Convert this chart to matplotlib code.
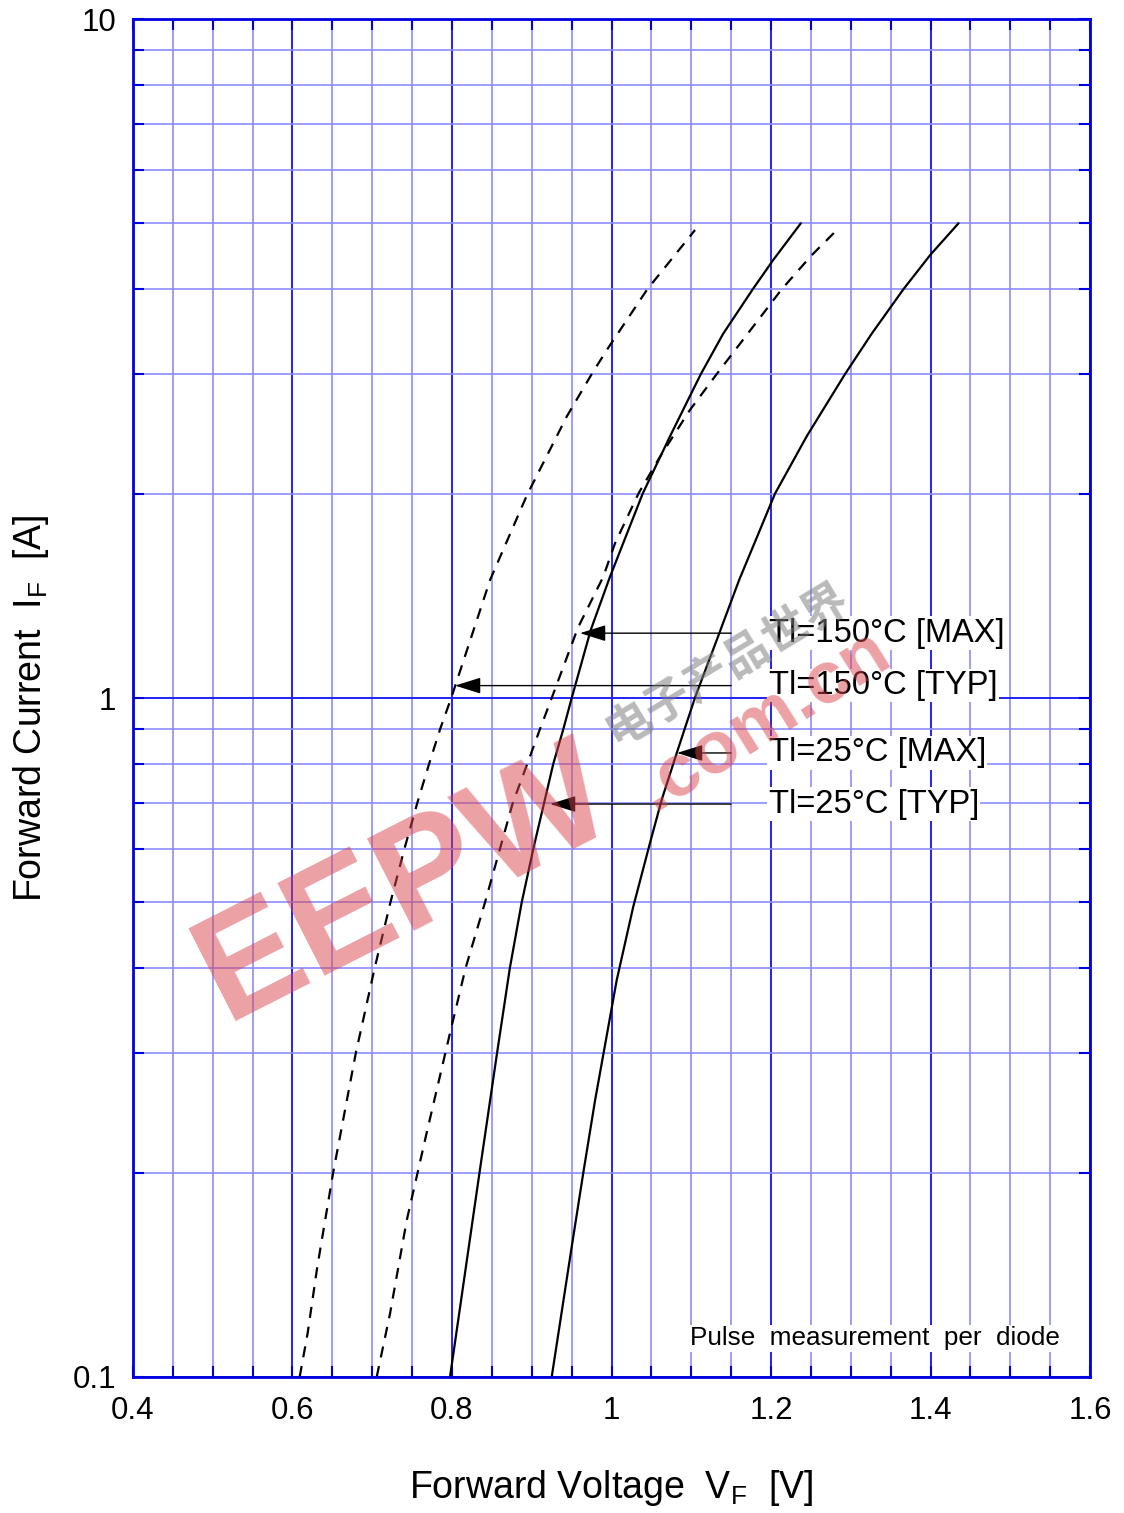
import numpy as np
import matplotlib.pyplot as plt
from matplotlib.ticker import FixedLocator, MultipleLocator, LogLocator, NullFormatter

plt.rcParams['font.family'] = ['Liberation Sans', 'DejaVu Sans']
plt.rcParams['mathtext.default'] = 'regular'

# Forward voltage [V] / forward current [A]
# Tj = 150 C typical (dashed, left)
v_150_typ = [0.609, 0.619, 0.631, 0.651, 0.6794, 0.703, 0.7228, 0.7404, 0.7564, 0.7713, 0.7851, 0.799,
             0.8477, 0.894, 0.9438, 0.9752, 0.994, 1.0449, 1.1047]
i_150_typ = [0.1, 0.116, 0.145, 0.2, 0.3, 0.4, 0.5, 0.6, 0.7, 0.8, 0.9, 1.0,
             1.492, 1.99, 2.597, 3.0, 3.254, 4.0, 4.89]

# Tj = 150 C max (dashed, right)
v_150_max = [0.7056, 0.7223, 0.7432, 0.7683, 0.7975, 0.817, 0.8414, 0.8602, 0.8761, 0.8944, 0.9103,
             0.925, 0.958, 0.9897, 1.0044, 1.0337, 1.0608, 1.0984, 1.1319, 1.1904, 1.2134, 1.251, 1.2803]
i_150_max = [0.1, 0.124, 0.170, 0.229, 0.321, 0.4, 0.5, 0.6, 0.7, 0.8, 0.9,
             1.0, 1.27, 1.509, 1.69, 2.0, 2.267, 2.657, 3.0, 3.687, 4.0, 4.49, 4.86]

# Tj = 25 C typical (solid, left)
v_25_typ = [0.7975, 0.8345, 0.8565, 0.8725, 0.8874, 0.902, 0.9154, 0.927, 0.9396, 0.9501,
            0.974, 0.9981, 1.0391, 1.0734, 1.112, 1.140, 1.1771, 1.2029, 1.2372]
i_25_typ = [0.1, 0.2, 0.3, 0.4, 0.5, 0.6, 0.7, 0.8, 0.9, 1.0,
            1.26, 1.509, 2.0, 2.43, 3.0, 3.44, 4.0, 4.42, 5.0]

# Tj = 25 C max (solid, right)
v_25_max = [0.925, 0.9501, 0.9646, 0.9795, 1.0065, 1.0273, 1.0483, 1.0629, 1.0818, 1.105, 1.1319,
            1.160, 1.205, 1.2448, 1.2928, 1.3262, 1.366, 1.3994, 1.4349]
i_25_max = [0.1, 0.1555, 0.1998, 0.256, 0.384, 0.493, 0.612, 0.708, 0.830, 1.004, 1.217,
            1.492, 2.0, 2.43, 3.0, 3.44, 4.0, 4.49, 5.0]

# curve labels with the point each arrow touches
ann_labels = ['Tl=150°C [MAX]', 'Tl=150°C [TYP]', 'Tl=25°C [MAX]', 'Tl=25°C [TYP]']
ann_tip_v = [0.9605, 0.8038, 1.0821, 0.9229]
ann_i = [1.246, 1.043, 0.83, 0.698]
ann_start_v = 1.150
ann_text_v = 1.197

x_ticks = [0.4, 0.6, 0.8, 1.0, 1.2, 1.4, 1.6]
x_tick_labels = ['0.4', '0.6', '0.8', '1', '1.2', '1.4', '1.6']
y_ticks = [0.1, 1, 10]
y_tick_labels = ['0.1', '1', '10']

frame_blue = '#0000e0'
major_blue = '#2020ff'
minor_blue = '#8c8cff'

fig = plt.figure(figsize=(11.24, 15.13), dpi=100)
ax = fig.add_axes([0.1183, 0.0899, 0.8515, 0.8975])

ax.set_yscale('log')
ax.set_xlim(0.4, 1.6)
ax.set_ylim(0.1, 10)

ax.xaxis.set_major_locator(FixedLocator(x_ticks))
ax.set_xticklabels(x_tick_labels)
ax.xaxis.set_minor_locator(MultipleLocator(0.05))
ax.yaxis.set_major_locator(FixedLocator(y_ticks))
ax.set_yticklabels(y_tick_labels)
ax.yaxis.set_minor_locator(LogLocator(base=10, subs=np.arange(2, 10)))
ax.yaxis.set_minor_formatter(NullFormatter())

ax.grid(which='minor', color=minor_blue, lw=1.2)
ax.grid(which='major', color=major_blue, lw=1.4)
ax.set_axisbelow(True)

ax.tick_params(which='both', direction='in', top=True, right=True, length=8,
               width=1.5, color=frame_blue, labelsize=22.5)
ax.tick_params(axis='x', pad=14)
ax.tick_params(axis='y', pad=12)
for s in ax.spines.values():
    s.set_color(frame_blue)
    s.set_linewidth(2)

# curves
ax.plot(v_150_typ, i_150_typ, color='black', lw=1.6, ls=(0, (5, 4)))
ax.plot(v_150_max, i_150_max, color='black', lw=1.6, ls=(0, (5, 4)))
ax.plot(v_25_typ, i_25_typ, color='black', lw=1.6)
ax.plot(v_25_max, i_25_max, color='black', lw=1.6)

for lab, tv, iv in zip(ann_labels, ann_tip_v, ann_i):
    ax.annotate('', xy=(tv, iv), xytext=(ann_start_v, iv),
                arrowprops=dict(arrowstyle='-|>,head_length=0.8,head_width=0.25',
                                color='black', lw=1.0, mutation_scale=20,
                                shrinkA=0, shrinkB=0))
    ax.text(ann_text_v, iv, lab, fontsize=23.5, ha='left', va='center',
            bbox=dict(facecolor='white', edgecolor='none', pad=1))

ax.text(1.5624, 0.114, 'Pulse  measurement  per  diode', fontsize=18.8,
        ha='right', va='center', bbox=dict(facecolor='white', edgecolor='none', pad=1))

ax.set_xlabel('Forward Voltage  $V_F$  [V]', fontsize=27, labelpad=30)
ax.set_ylabel('Forward Current  $I_F$  [A]', fontsize=27)
ax.yaxis.set_label_coords(-0.0856, 0.4926)

# EEPW watermark on top
fig.text(0.36, 0.415, 'EEPW', rotation=27, fontsize=108, fontweight='bold',
         color='#d9434b', alpha=0.5, ha='center', va='center')
fig.text(0.68, 0.524, '.com.cn', rotation=32, fontsize=54, fontweight='bold',
         color='#d9434b', alpha=0.5, ha='center', va='center')
fig.text(0.647, 0.5605, '电子产品世界', rotation=31, fontsize=33, fontweight='bold',
         color='#808080', alpha=0.55, ha='center', va='center',
         family=['Noto Sans CJK SC', 'DejaVu Sans'])

fig.savefig('out.png', dpi=100)
